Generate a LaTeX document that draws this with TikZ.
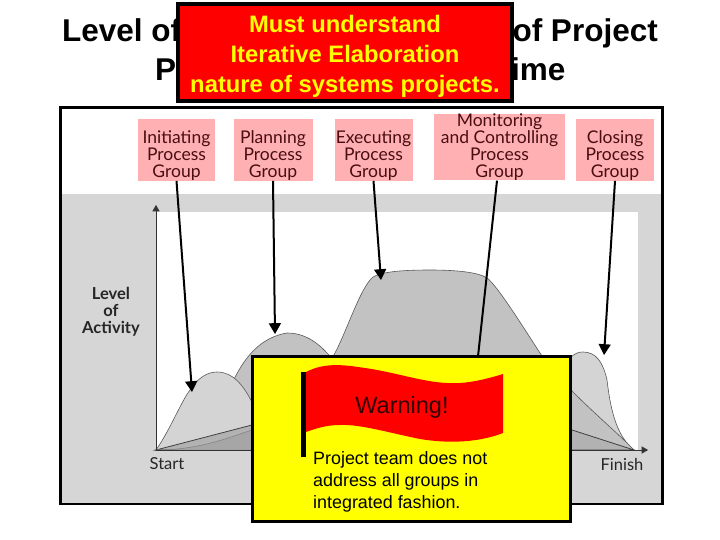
\documentclass[tikz,border=0pt]{standalone}
\usepackage{fontspec}
\setmainfont{Liberation Sans}
\newfontfamily\chartfont{Lato}
\usetikzlibrary{arrows,positioning}
\definecolor{panelgray}{HTML}{D6D6D6}
\definecolor{pinkbox}{HTML}{FFB0B2}
\definecolor{pinktext}{HTML}{4A0E12}
\definecolor{warnyellow}{RGB}{255,255,0}
\definecolor{warnred}{RGB}{255,0,0}
\newcommand{\phasegap}{\rule{0pt}{24.5pt}}
\tikzset{
	phase/.style={fill=pinkbox,text=pinktext,font=\chartfont\fontsize{17.5}{17}\selectfont,align=center,inner sep=0pt,minimum height=60pt},
	titletext/.style={font=\bfseries\fontsize{31.5}{31.5}\selectfont,inner sep=0pt},
	axislabel/.style={font=\chartfont\fontsize{16.5}{17}\selectfont,text=black!85,inner sep=0pt},
	pointer/.style={draw=black,line width=2pt,-triangle 60},
	hill/.style={draw=black!65,line width=0.6pt}
}
\begin{document}
\begin{tikzpicture}[x=1pt,y=-1pt]
	\useasboundingbox (0,0) rectangle (720,540);
	\node[titletext,anchor=base west] (titlea) at (62,42) {Level of};
	\node[titletext,anchor=base east] (titleb) at (658,42) {of Project};
	\node[titletext,anchor=base west] (titlec) at (155,81) {P};
	\node[titletext,anchor=base west] (titled) at (511,81) {ime};
	\node[draw=black,line width=2.5pt,fill=white,minimum width=602pt,minimum height=396pt,inner sep=0pt] (frame) at (361.5,305.5) {};
	\fill[panelgray] (62,194) rectangle (661,503);
	\fill[white] (157,212) rectangle (638,450);
	\draw[hill,fill=black!17] (156,450) -- (570,358) .. controls (575,353) and (579,352) .. (583,352) .. controls (596,352) and (603,362) .. (607,380) .. controls (610,405) and (615,435) .. (634,450) -- cycle;
	\draw[hill,fill=black!24] (156,450) .. controls (250,440) and (310,400) .. (335,353) .. controls (347,330) and (358,295) .. (370,280) .. controls (375,272) and (400,270) .. (430,270) .. controls (455,270) and (478,272) .. (487,278) .. controls (497,285) and (525,330) .. (540,353) .. controls (565,390) and (610,425) .. (634,450) -- cycle;
	\draw[hill,fill=black!24] (156,450) .. controls (175,442) and (200,425) .. (220,410) .. controls (232,385) and (245,340) .. (287,333) .. controls (305,333) and (318,343) .. (327,353) .. controls (400,430) and (450,445) .. (500,450) -- cycle;
	\draw[hill,fill=black!17] (156,450) .. controls (170,430) and (182,400) .. (190,390) .. controls (198,378) and (207,372) .. (217,372) .. controls (233,372) and (243,385) .. (252,402) .. controls (262,425) and (275,440) .. (300,450) -- cycle;
	\draw[draw=black!75,fill=black!30,line width=0.8pt] (156,450) -- (252,425) .. controls (350,400) and (500,408) .. (572,430) -- (634,450) -- cycle;
	\draw[draw=black!50,fill=black!35,line width=0.5pt] (156,450) .. controls (200,450) and (230,437) .. (252,430) .. controls (350,415) and (450,430) .. (500,450) -- cycle;
	\draw[draw=black!80,line width=0.7pt,-triangle 60] (156,450) -- (156,205);
	\draw[draw=black!80,line width=0.7pt,-triangle 60] (156,450) -- (648,450);
	\node[axislabel,font=\chartfont\bfseries\fontsize{16.5}{17}\selectfont,align=center] (level) at (111,312) {Level\\of\\Activity};
	\node[axislabel] (start) at (167,464) {Start};
	\node[axislabel] (finish) at (622,464) {Finish};
	\node[phase,minimum width=77pt] (initiating) at (176.5,150) {\phasegap Initiating\\Process\\Group};
	\node[phase,minimum width=79pt] (planning) at (273,150) {\phasegap Planning\\Process\\Group};
	\node[phase,minimum width=78pt] (executing) at (373.5,150) {\phasegap Executing\\Process\\Group};
	\node[phase,minimum width=131pt,minimum height=66pt] (monitoring) at (499.5,147) {Monitoring\\and Controlling\\Process\\Group};
	\node[phase,minimum width=78pt] (closing) at (615,150) {\phasegap Closing\\Process\\Group};
	\coordinate (initiatingend) at (192,392);
	\coordinate (planningend) at (275,334);
	\coordinate (executingend) at (381,280);
	\coordinate (monitoringend) at (476,375);
	\coordinate (closingend) at (604,355);
	\draw[pointer] (initiating.south) -- (initiatingend);
	\draw[pointer] (planning.south) -- (planningend);
	\draw[pointer] (executing.south) -- (executingend);
	\draw[pointer] ([xshift=-2.5pt]monitoring.south) -- (monitoringend);
	\draw[pointer] (closing.south) -- (closingend);
	\node[draw=black,line width=3pt,fill=warnyellow,minimum width=318pt,minimum height=165pt,inner sep=0pt] (warningbox) at (411.5,438.5) {};
	\fill[warnred] (306,372) .. controls (325,362) and (345,365) .. (365,368) .. controls (400,373) and (430,385) .. (460,383) .. controls (475,382) and (490,378) .. (503,374) -- (503,433) .. controls (480,442) and (450,444) .. (420,439) .. controls (390,433) and (360,424) .. (340,425) .. controls (325,425) and (315,429) .. (306,432) -- cycle;
	\fill[black] (301,372) rectangle (306,457);
	\node[inner sep=0pt,text=black!80!warnred,font=\fontsize{23.5}{24}\selectfont] (warning) at (402,407) {Warning!};
	\node[inner sep=0pt,anchor=north west,align=left,font=\fontsize{17.9}{22}\selectfont] (warningtext) at (313,451) {Project team does not\\address all groups in\\integrated fashion.};
	\node[draw=black,line width=4pt,fill=warnred,minimum width=334pt,minimum height=97pt,inner sep=0pt] (understand) at (345,53) {};
	\node[inner sep=0pt,text=warnyellow,align=center,font=\bfseries\fontsize{23.8}{30}\selectfont] (understandtext) at (345,56.5) {Must understand\\Iterative Elaboration\\nature of systems projects.};
\end{tikzpicture}
\end{document}
